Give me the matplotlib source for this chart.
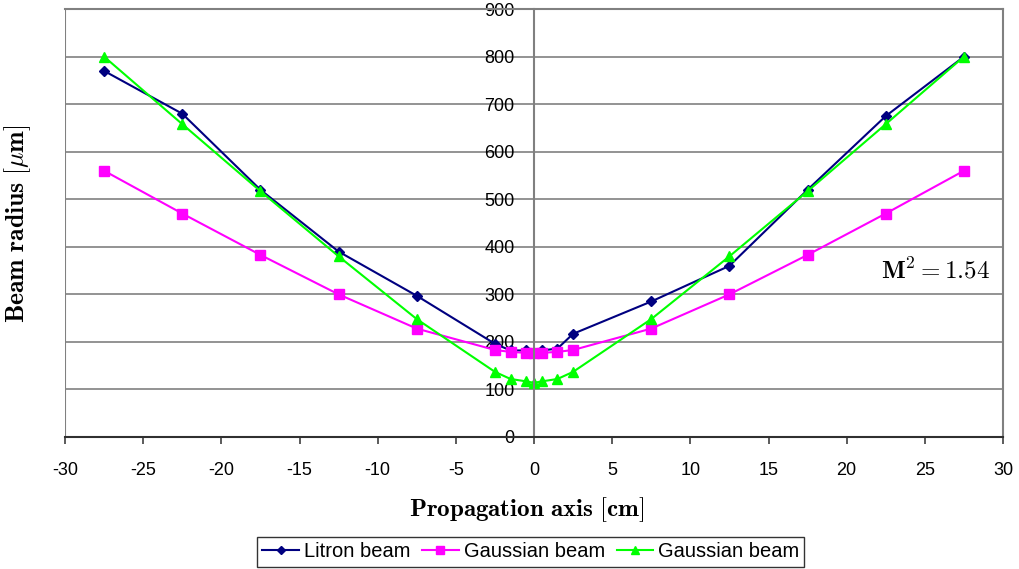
import numpy as np
import matplotlib.pyplot as plt

plt.rcParams['axes.unicode_minus'] = False
plt.rcParams['mathtext.fontset'] = 'cm'

# data
x_litron = [-27.5, -22.5, -17.5, -12.5, -7.5, -2.5, -1.5, -0.5, 0.5, 1.5, 2.5, 7.5, 12.5, 17.5, 22.5, 27.5]
y_litron = [770, 680, 520, 390, 297, 196, 182, 182, 182, 186, 217, 285, 360, 520, 675, 800]

x_gauss = [-27.5, -22.5, -17.5, -12.5, -7.5, -2.5, -1.5, -0.5, 0, 0.5, 1.5, 2.5, 7.5, 12.5, 17.5, 22.5, 27.5]
y_gauss1 = [560, 470, 383, 300, 228, 183, 179, 177, 176, 177, 179, 183, 228, 300, 383, 470, 560]
y_gauss2 = [800, 658, 517, 380, 248, 137, 122, 117, 114, 117, 122, 137, 248, 380, 517, 658, 800]

labels = ['Litron beam', 'Gaussian beam', 'Gaussian beam']
x_ticks = np.arange(-30, 31, 5)
y_ticks = np.arange(0, 901, 100)

fig = plt.figure(figsize=(10.19, 5.69), dpi=100)
ax = fig.add_axes([0.0638, 0.232, 0.9205, 0.752])

ax.plot(x_litron, y_litron, '-D', color='#000080', lw=1.5, ms=5, label=labels[0])
ax.plot(x_gauss, y_gauss1, '-s', color='#FF00FF', lw=1.5, ms=7, label=labels[1])
ax.plot(x_gauss, y_gauss2, '-^', color='#00FF00', lw=1.5, ms=7, label=labels[2])

ax.set_xlim(-30, 30)
ax.set_ylim(0, 900)
ax.set_xticks(x_ticks)
ax.set_yticks(y_ticks)

for y in y_ticks[1:]:
    ax.axhline(y, color='#808080', lw=1.2, zorder=0)
ax.axvline(-30, color='#808080', lw=1.5, zorder=0)

ax.spines['left'].set_position(('data', 0))
ax.spines['left'].set_color('#808080')
ax.spines['right'].set_color('#808080')
ax.spines['top'].set_color('#808080')
ax.spines['bottom'].set_color('#303030')
for s in ['left', 'right', 'top', 'bottom']:
    ax.spines[s].set_linewidth(1.5)

ax.tick_params(axis='x', direction='out', length=5, width=1.2, color='#404040', labelsize=13, pad=13)
ax.tick_params(axis='y', length=0, labelsize=13, pad=14)
for t in ax.get_xticklabels() + ax.get_yticklabels():
    t.set_fontfamily('Liberation Sans')

ax.text(29.2, 350, r'$\mathbf{M}^{\mathbf{2}}\mathbf{=1.54}$', fontsize=18, ha='right', va='center')

fig.text(0.0177, 0.607, r'$\mathbf{Beam\ radius\ [}\mu\mathbf{m]}$', rotation=90,
         ha='center', va='center', fontsize=18.5)
fig.text(0.517, 0.105, r'$\mathbf{Propagation\ axis\ [cm]}$', ha='center', va='center',
         fontsize=18)

leg = fig.legend(loc='center', bbox_to_anchor=(0.521, 0.0299), ncol=3, frameon=True,
                 fancybox=False, edgecolor='black', prop={'family': 'Liberation Sans', 'size': 14.5},
                 handlelength=1.8, handletextpad=0.25, columnspacing=0.6, borderpad=0.25,
                 markerscale=0.8)
leg.get_frame().set_linewidth(1.0)

fig.savefig('out.png', dpi=100)
